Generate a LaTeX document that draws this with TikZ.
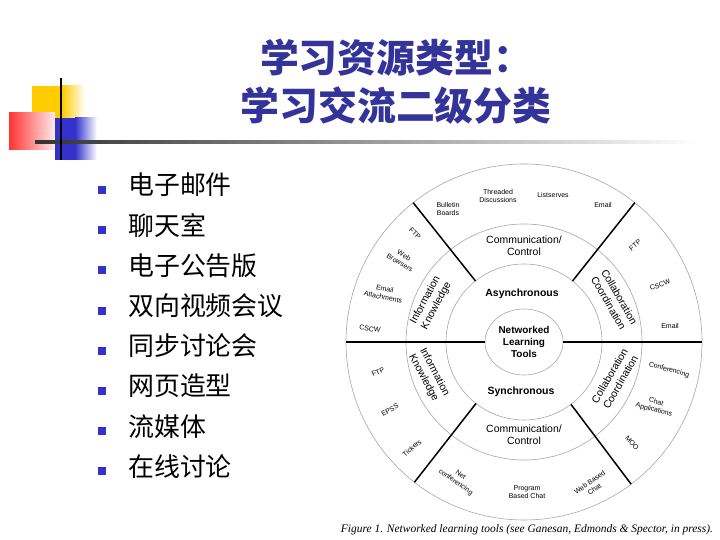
\documentclass[tikz,border=0pt]{standalone}
\usepackage{fontspec}
\setmainfont{Liberation Serif}
\setsansfont{Liberation Sans}
\newfontfamily\cjk{Noto Sans CJK SC}
\usetikzlibrary{calc}

\definecolor{titleblue}{HTML}{333399}
\definecolor{bulletblue}{HTML}{3333CC}
\definecolor{decoyellow}{HTML}{FFCC00}
\definecolor{decored}{HTML}{FF3333}
\definecolor{decoblue}{HTML}{3333CC}

\begin{document}
\begin{tikzpicture}[
    x=1bp, y=1bp,
    ring/.style={draw=black!35, line width=0.6bp}, % thin grey circles
    divider/.style={draw=black, line width=1.5bp}, % thick sector lines
    tool/.style={font=\sffamily\fontsize{7}{8.5}\selectfont, align=center, inner sep=0.3pt},
    field/.style={font=\sffamily\fontsize{10.5}{12.5}\selectfont, align=center, inner sep=0.3pt},
    mode/.style={font=\sffamily\bfseries\fontsize{10.5}{12}\selectfont, inner sep=0pt},
    title/.style={font=\cjk\bfseries\fontsize{39}{39}\selectfont, text=titleblue, inner sep=0pt},
    item/.style={font=\cjk\fontsize{26}{26}\selectfont, anchor=west, inner sep=0pt},
    bulletbox/.style={fill=bulletblue, minimum size=8bp, inner sep=0pt}
]
    \useasboundingbox (0,0) rectangle (720,540);

    % Corner decoration
    \fill[decoyellow] (32,418) rectangle (62,454);
    \shade[left color=decoyellow, right color=white] (62,418) rectangle (85,454);
    \shade[left color=decored, right color=decored!10] (9,390) rectangle (55,427);
    \fill[decoblue] (55,380) rectangle (75,422);
    \shade[left color=decoblue, right color=white] (75,380) rectangle (97,422);
    \shade[left color=black!80, right color=white] (35,396.5) rectangle (700,399.5);
    \draw[black, line width=1.8bp] (61,380) -- (61,462);

    % Title
    \node[title] (title1) at (396,482) {学习资源类型：};
    \node[title] (title2) at (396,434) {学习交流二级分类};

    % Bullet list
    \foreach \txt [count=\i] in {电子邮件,聊天室,电子公告版,双向视频会议,同步讨论会,网页造型,流媒体,在线讨论} {
        \node[bulletbox] (b\i) at (102,{350-(\i-1)*40.2}) {};
        \node[item] (t\i) at (128,{355-(\i-1)*40.2}) {\txt};
    }

    % Ring diagram
    \coordinate (Center) at (524,198);
    \def\rOne{39}
    \def\rTwo{78}
    \def\rThree{118}
    \def\rFour{178}

    \draw[ring] (Center) ellipse [x radius=\rOne, y radius=33];
    \draw[ring] (Center) circle (\rTwo);
    \draw[ring] (Center) circle (\rThree);
    \draw[ring] (Center) circle (\rFour);

    % Sector lines
    \draw[divider] ($(Center)+(180:\rOne)$) -- ($(Center)+(180:\rFour)$);
    \draw[divider] ($(Center)+(0:\rOne)$) -- ($(Center)+(0:\rFour)$);
    \draw[divider] ($(Center)+(128.5:\rTwo)$) -- ($(Center)+(128.5:\rFour)$);
    \draw[divider] ($(Center)+(51.5:\rTwo)$) -- ($(Center)+(51.5:\rFour)$);
    \draw[divider] ($(Center)+(232:\rTwo)$) -- ($(Center)+(232:\rFour)$);
    \draw[divider] ($(Center)+(-53:\rTwo)$) -- ($(Center)+(-53:\rFour)$);

    % Centre and modes
    \node[mode, align=center, font=\sffamily\bfseries\fontsize{10}{12}\selectfont] (core) at (Center) {Networked\\Learning\\Tools};
    \node[mode] (async) at (522,246) {Asynchronous};
    \node[mode] (sync) at (521,148) {Synchronous};

    % Middle ring
    \node[field] (commup) at (524,294) {Communication/\\Control};
    \node[field] (commlo) at (524,105) {Communication/\\Control};
    \node[field, rotate=62] (infoup) at (431,237) {Information\\Knowledge};
    \node[field, rotate=-62] (infolo) at (429,165) {Information\\Knowledge};
    \node[field, rotate=-60] (collup) at (614,240) {Collaboration\\Coordination};
    \node[field, rotate=60] (colllo) at (615,161) {Collaboration\\Coordination};

    % Outer ring tools
    \node[tool] (bulletin) at (448,331) {Bulletin\\Boards};
    \node[tool] (threaded) at (498,344) {Threaded\\Discussions};
    \node[tool] (listserv) at (553,345) {Listserves};
    \node[tool] (emailtop) at (603,335) {Email};
    \node[tool, rotate=-45] (ftpul) at (415,307) {FTP};
    \node[tool, rotate=-30] (browsers) at (402,281) {Web\\Browsers};
    \node[tool, rotate=-12] (attach) at (384,247) {Email\\Attachments};
    \node[tool, rotate=-8] (cscwul) at (370,211) {CSCW};
    \node[tool, rotate=40] (ftpur) at (635,295) {FTP};
    \node[tool, rotate=20] (cscwur) at (660,255) {CSCW};
    \node[tool] (emailr) at (670,214) {Email};
    \node[tool, rotate=25] (ftpll) at (378,168) {FTP};
    \node[tool, rotate=30] (epss) at (390,130) {EPSS};
    \node[tool, rotate=40] (tickers) at (412,92) {Tickers};
    \node[tool, rotate=-35] (netconf) at (458,61) {Net\\conferencing};
    \node[tool] (progchat) at (527,48) {Program\\Based Chat};
    \node[tool, rotate=35] (webchat) at (592,54) {Web Based\\Chat};
    \node[tool, rotate=-15] (conf) at (669,170) {Conferencing};
    \node[tool, rotate=-15] (chatapp) at (655,134) {Chat\\Applications};
    \node[tool, rotate=-50] (moo) at (632,97) {MOO};

    % Caption
    \node[font=\itshape\fontsize{11.5}{13}\selectfont, inner sep=0pt] (caption) at (527,10)
        {Figure 1. Networked learning tools (see Ganesan, Edmonds \& Spector, in press).};

\end{tikzpicture}
\end{document}
